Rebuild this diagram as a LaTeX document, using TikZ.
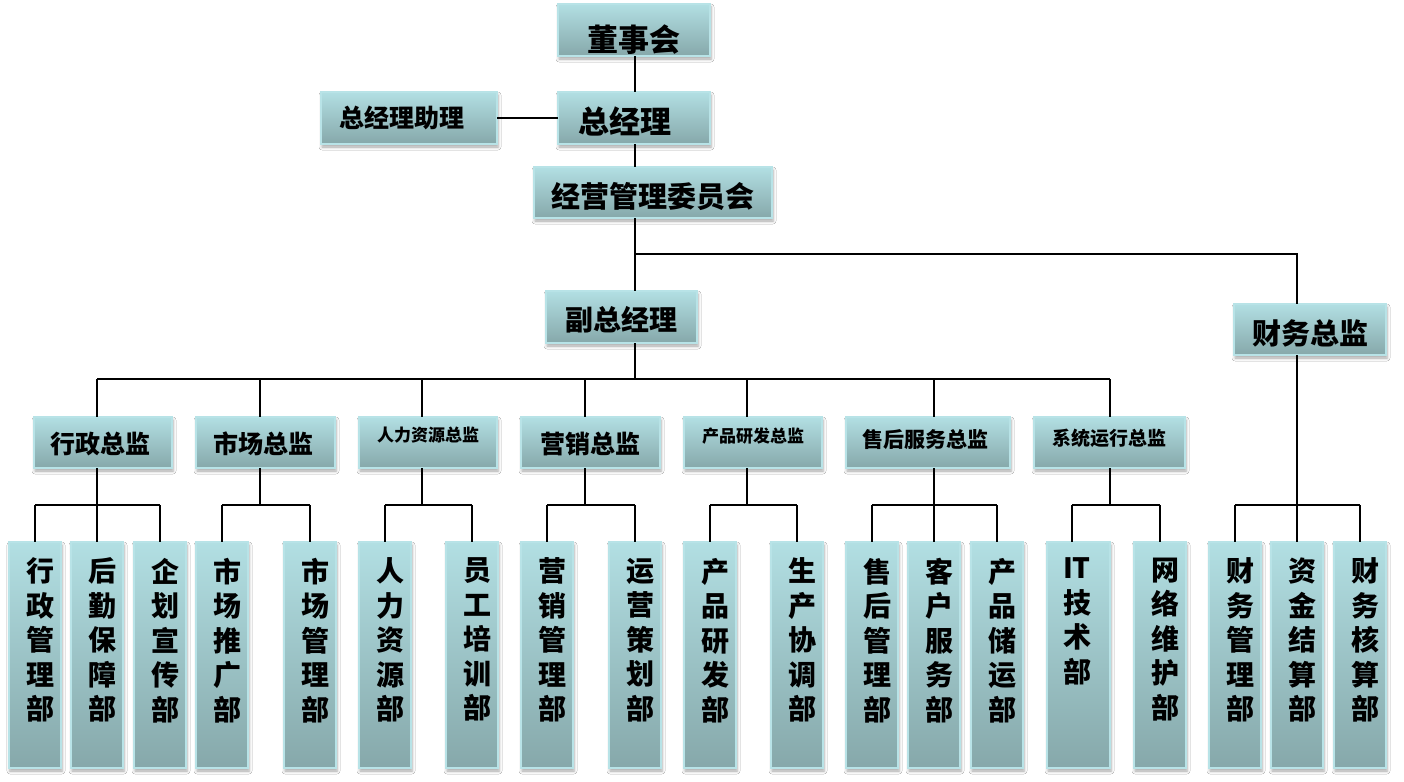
\documentclass[tikz,border=0pt]{standalone}
\usepackage{fontspec}
\setmainfont{Noto Sans CJK SC}
\usetikzlibrary{shadows.blur}
\definecolor{boxtop}{RGB}{178,223,227}
\definecolor{boxbot}{RGB}{134,168,170}
\definecolor{boxedge}{RGB}{184,227,231}
\newcommand\ob[9]{%
  \node[obox] (#1) at ({(#2+#4)/2},{(#3+#5)/2})
   {\parbox[t][\dimexpr#5pt-#3pt\relax][t]{\dimexpr#4pt-#2pt\relax}{\vspace*{#7pt}\centering\leftskip=#6pt plus 1fil\fontsize{#8pt}{34.5pt}\selectfont\bfseries #9\par}};}
\begin{document}
\begin{tikzpicture}[x=1pt,y=-1pt,
  obox/.style={draw=boxedge, line width=1.2pt, top color=boxtop, bottom color=boxbot,
    inner sep=0pt, outer sep=0pt,
    blur shadow={shadow xshift=1pt, shadow yshift=-3pt, shadow blur radius=3pt, shadow opacity=35}},
  conn/.style={line width=1.6pt, black}]
\useasboundingbox[fill=white] (0,0) rectangle (1404,781);
% top levels
\ob{dsh}{558}{4}{710}{56}{0}{21}{31}{董事会}
\ob{zjl}{558}{92}{710}{144}{-18}{15}{31}{总经理}
\ob{zl}{321}{92}{497}{144}{-15}{14}{25}{总经理助理}
\ob{jy}{534}{167}{772}{218}{0}{15}{29}{经营管理委员会}
\ob{fz}{546}{291}{697}{343}{0}{15}{28}{副总经理}
\ob{cw}{1234}{304}{1386}{355}{0}{16}{29}{财务总监}
% directors
\ob{xz}{34}{417}{172}{468}{-4}{15}{25}{行政总监}
\ob{sc}{196}{417}{335}{468}{-5}{15}{25}{市场总监}
\ob{rl}{359}{417}{497}{468}{0}{10}{17}{人力资源总监}
\ob{yx}{521}{417}{660}{468}{0}{15}{25}{营销总监}
\ob{cp}{684}{417}{822}{468}{0}{11}{17}{产品研发总监}
\ob{sh}{846}{417}{1010}{468}{-6}{12}{21}{售后服务总监}
\ob{xt}{1034}{417}{1185}{468}{0}{12}{19}{系统运行总监}
% departments
\ob{a1}{9}{542}{61}{768}{11}{16}{28}{行\\政\\管\\理\\部}
\ob{a2}{71}{542}{123}{768}{11}{16}{28}{后\\勤\\保\\障\\部}
\ob{a3}{134}{542}{186}{768}{11}{16}{28}{企\\划\\宣\\传\\部}
\ob{b1}{196}{542}{248}{768}{11}{16}{28}{市\\场\\推\\广\\部}
\ob{b2}{284}{542}{336}{768}{11}{16}{28}{市\\场\\管\\理\\部}
\ob{c1}{359}{542}{411}{768}{11}{16}{28}{人\\力\\资\\源\\部}
\ob{c2}{446}{542}{498}{768}{11}{16}{28}{员\\工\\培\\训\\部}
\ob{d1}{521}{542}{573}{768}{11}{16}{28}{营\\销\\管\\理\\部}
\ob{d2}{609}{542}{661}{768}{11}{16}{28}{运\\营\\策\\划\\部}
\ob{e1}{684}{542}{736}{768}{11}{16}{28}{产\\品\\研\\发\\部}
\ob{e2}{771}{542}{823}{768}{11}{16}{28}{生\\产\\协\\调\\部}
\ob{f1}{846}{542}{898}{768}{11}{16}{28}{售\\后\\管\\理\\部}
\ob{f2}{908}{542}{960}{768}{11}{16}{28}{客\\户\\服\\务\\部}
\ob{f3}{971}{542}{1023}{768}{11}{16}{28}{产\\品\\储\\运\\部}
\ob{g1}{1047}{542}{1110}{768}{-3}{16}{28}{IT\\技\\术\\部}
\ob{g2}{1134}{542}{1186}{768}{11}{16}{28}{网\\络\\维\\护\\部}
\ob{h1}{1209}{542}{1261}{768}{11}{16}{28}{财\\务\\管\\理\\部}
\ob{h2}{1271}{542}{1323}{768}{11}{16}{28}{资\\金\\结\\算\\部}
\ob{h3}{1334}{542}{1386}{768}{11}{16}{28}{财\\务\\核\\算\\部}
% guide coordinates
\coordinate (t) at (635,0);
\coordinate (cwx) at (1297,0);
\coordinate (b1y) at (0,254);
\coordinate (b2y) at (0,379);
\coordinate (b3y) at (0,505);
\foreach \n/\x in {xz/97,sc/260,rl/422,yx/585,cp/747,sh/934,xt/1110}{\coordinate (\n x) at (\x,0);}
\foreach \n/\x in {a1/35,a2/97,a3/160,b1/222,b2/310,c1/385,c2/472,d1/547,d2/635,e1/710,e2/797,f1/872,f2/934,f3/997,g1/1072,g2/1160,h1/1235,h2/1297,h3/1360}{\coordinate (\n x) at (\x,0);}
% connectors
\draw[conn] (dsh.south -| t) -- (zjl.north -| t);
\draw[conn] (zjl.west) -- (zl.east);
\draw[conn] (zjl.south -| t) -- (jy.north -| t);
\draw[conn] (jy.south -| t) -- (fz.north -| t);
\draw[conn] (t |- b1y) -| (cw.north -| cwx);
\draw[conn] (fz.south -| t) -- (t |- b2y);
\draw[conn] (xzx |- b2y) -- (xtx |- b2y);
\foreach \n in {xz,sc,rl,yx,cp,sh,xt}{\draw[conn] (\n x |- b2y) -- (\n.north -| \n x);}
% sub buses
\draw[conn] (xz.south -| xzx) -- (xzx |- b3y);
\draw[conn] (a1x |- b3y) -- (a3x |- b3y);
\draw[conn] (sc.south -| scx) -- (scx |- b3y);
\draw[conn] (b1x |- b3y) -- (b2x |- b3y);
\draw[conn] (rl.south -| rlx) -- (rlx |- b3y);
\draw[conn] (c1x |- b3y) -- (c2x |- b3y);
\draw[conn] (yx.south -| yxx) -- (yxx |- b3y);
\draw[conn] (d1x |- b3y) -- (d2x |- b3y);
\draw[conn] (cp.south -| cpx) -- (cpx |- b3y);
\draw[conn] (e1x |- b3y) -- (e2x |- b3y);
\draw[conn] (sh.south -| shx) -- (shx |- b3y);
\draw[conn] (f1x |- b3y) -- (f3x |- b3y);
\draw[conn] (xt.south -| xtx) -- (xtx |- b3y);
\draw[conn] (g1x |- b3y) -- (g2x |- b3y);
\draw[conn] (cw.south -| cwx) -- (cwx |- b3y);
\draw[conn] (h1x |- b3y) -- (h3x |- b3y);
\foreach \n in {a1,a2,a3,b1,b2,c1,c2,d1,d2,e1,e2,f1,f2,f3,g1,g2,h1,h2,h3}{\draw[conn] (\n x |- b3y) -- (\n.north -| \n x);}
\end{tikzpicture}
\end{document}
